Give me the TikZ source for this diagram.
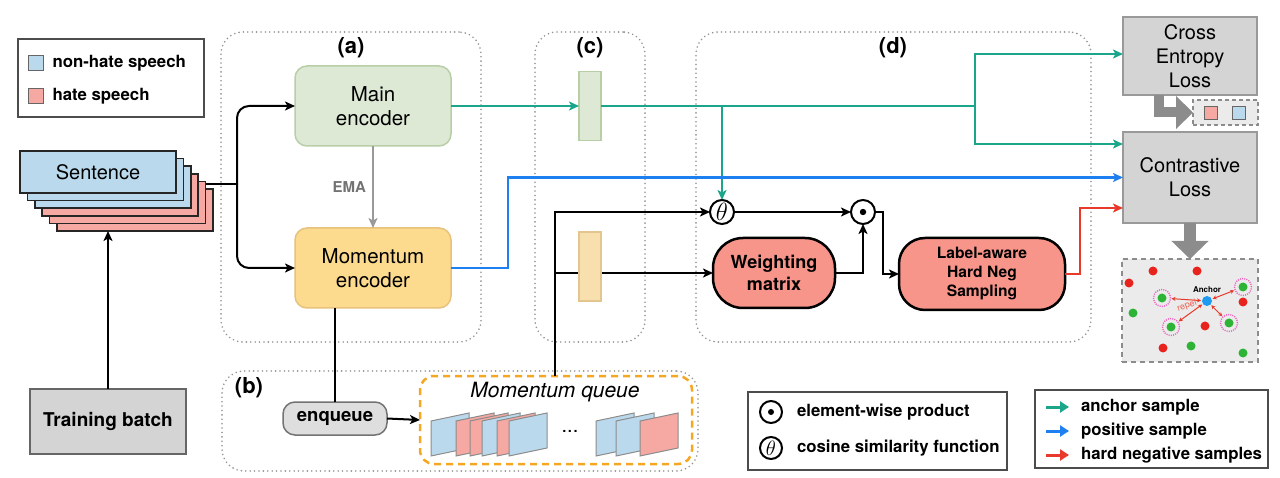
\documentclass[tikz,border=0pt]{standalone}
\usepackage{amsmath,amssymb}
\usepackage{fontspec}
\setmainfont{TeX Gyre Heros}
\usepackage{tikz}
\usetikzlibrary{arrows.meta}
\usetikzlibrary{positioning}

\definecolor{nhblue}{HTML}{BAD9EC}
\definecolor{hred}{HTML}{F6A8A2}
\definecolor{encg}{HTML}{DDE9D5}
\definecolor{encgd}{HTML}{B8CEA7}
\definecolor{enco}{HTML}{FCDB8F}
\definecolor{encod}{HTML}{E6C27C}
\definecolor{feato}{HTML}{F8DFAE}
\definecolor{featod}{HTML}{E3C58E}
\definecolor{salmon}{HTML}{F8958A}
\definecolor{grnline}{HTML}{1BA68C}
\definecolor{bluline}{HTML}{1E7FF0}
\definecolor{redline}{HTML}{E8392B}
\definecolor{qorange}{HTML}{F5A623}
\definecolor{dotred}{HTML}{E8231E}
\definecolor{dotgreen}{HTML}{2DB336}
\definecolor{halopink}{HTML}{EE5FC0}
\definecolor{anchorblue}{HTML}{1E9BF0}

\newcommand{\fsz}[2]{\fontsize{#1}{#2}\selectfont}

\begin{document}
\begin{tikzpicture}[x=1pt, y=-1pt,
  every node/.style={inner sep=0pt, outer sep=0pt},
  region/.style={draw=black!42, line width=1.8pt, line cap=round, dash pattern=on 0pt off 4.4pt, rounded corners=22pt},
  lab/.style={font=\bfseries\fsz{22}{26}},
  legbox/.style={draw=black!70, line width=1.2pt},
  legtxt/.style={anchor=west, font=\bfseries\fsz{16.8}{20}},
  sq/.style={draw=black!60, line width=1.5pt, minimum size=15pt},
  card/.style={draw=black!85, line width=1.5pt, minimum width=156pt, minimum height=42pt, font=\fsz{20}{23}},
  enc/.style={rounded corners=12pt, line width=1.5pt, minimum width=156pt, minimum height=80pt, align=center, font=\fsz{20.5}{24}},
  feat/.style={line width=1.5pt, minimum width=22pt, minimum height=69pt},
  op/.style={circle, draw, fill=white, line width=2pt, minimum size=24pt, font=\fsz{24}{26}},
  hardbox/.style={draw, fill=salmon, line width=2.5pt, rounded corners=30pt, align=center},
  loss/.style={fill=black!17, draw=black!40, line width=2.5pt, minimum width=134pt, align=center, font=\fsz{20}{24}},
  grn/.style={draw=grnline, line width=2.2pt},
  blu/.style={draw=bluline, line width=2.2pt},
  rd/.style={draw=redline, line width=2.2pt},
  fat/.style={draw=black!45, line join=miter},
  halo/.style={circle, draw=halopink, line width=1.4pt, dash pattern=on 1pt off 1.2pt, minimum size=17pt},
  rep/.style={<->, draw=redline, line width=1pt, >={Stealth[length=4pt, width=4pt]}, shorten <=1pt, shorten >=1pt},
]
\tikzset{>={Stealth[length=10pt, width=9pt, inset=2.5pt]}}
\useasboundingbox (0,0) rectangle (1280,478);

%% regions
\node[region, minimum width=260pt, minimum height=310pt] (regA) at (351,187) {};
\node[region, minimum width=110pt, minimum height=310pt] (regC) at (590,187) {};
\node[region, minimum width=395pt, minimum height=310pt] (regD) at (893.5,187) {};
\node[region, minimum width=476pt, minimum height=100pt] (regB) at (460,421) {};
\node[lab] (la) at (351,48) {(a)};
\node[lab] (lc) at (590,48) {(c)};
\node[lab] (ld) at (893,48) {(d)};
\node[lab] (lb) at (249,388) {(b)};

%% legend top left
\node[legbox, minimum width=186pt, minimum height=78pt] (leg1) at (111,78) {};
\node[sq, fill=nhblue] (sqnh) at (36,63) {};
\node[legtxt, right=9pt of sqnh] (tnh) {non-hate speech};
\node[sq, fill=hred] (sqh) at (36,96) {};
\node[legtxt, right=9pt of sqh] (th) {hate speech};

%% sentence stack and training batch
\foreach \i/\c in {5/hred,4/hred,3/hred,2/nhblue,1/nhblue}
  \node[card, fill=\c] (sent\i) at (98+7.4*\i, 172+7.6*\i) {};
\node[card, fill=nhblue] (sent) at (98,172) {Sentence};
\node[fill=black!17, draw=black!60, line width=2pt, minimum width=156pt, minimum height=65pt, font=\bfseries\fsz{19}{23}] (train) at (108,421.5) {Training batch};
\draw[->, line width=2pt] (train) -- (train |- sent5.south);

%% encoders
\node[enc, fill=encg, draw=encgd] (main) at (373,106) {Main\\encoder};
\node[enc, fill=enco, draw=encod, below=82pt of main] (mom) {Momentum\\encoder};
\draw[->, draw=black!40, line width=1.8pt] (main) -- (mom)
  node[midway, left=7pt, text=black!55, font=\bfseries\fsz{15}{18}] {EMA};

\coordinate (split) at (237,184);
\draw[line width=2pt] (sent4.east |- split) -- (split);
\draw[->, line width=2pt, rounded corners=12pt] (split) |- (main.west);
\draw[->, line width=2pt, rounded corners=12pt] (split) |- (mom.west);

%% losses
\node[loss, minimum height=78pt] (cross) at (1190,56) {Cross\\Entropy\\Loss};
\node[loss, minimum height=91pt, below=37pt of cross] (contr) {Contrastive\\Loss};

%% (d) operators
\node[op] (theta) at (722,212) {$\theta$};
\node[op] (prod) at (863,212) {};
\fill (prod) circle (3.2pt);
\node[hardbox, minimum width=122pt, minimum height=70pt, font=\bfseries\fsz{18}{22}] (wm) at (774,273) {Weighting\\matrix};
\node[hardbox, minimum width=166pt, minimum height=72pt, rounded corners=26pt, font=\bfseries\fsz{15.6}{19}] (lahn) at (982,274) {Label-aware\\Hard Neg\\Sampling};

\draw[->, line width=2pt] (theta) -- (prod);
\draw[->, line width=2pt] (wm.east) -| (prod.south);
\draw[->, line width=2pt] (prod.east) -- ++(8,0) |- (lahn.west);

%% momentum queue
\node[draw=black!55, fill=black!13, line width=1.5pt, rounded corners=12pt, minimum width=104pt, minimum height=33pt, font=\bfseries\fsz{18.5}{22}] (enq) at (335,418.5) {enqueue};
\node[draw=qorange, line width=2.5pt, dash pattern=on 7pt off 5pt, rounded corners=14pt, minimum width=272pt, minimum height=88pt] (queue) at (556,420) {};
\node[font=\itshape\fsz{21}{24}] (qtitle) at (555,392) {Momentum queue};
\foreach \x/\c in {431/nhblue,456/hred,470/hred,482/nhblue,497/hred,509/nhblue,596/nhblue,616/nhblue,640/hred}
  \filldraw[fill=\c, draw=black!45, line width=1pt] (\x,421) -- (\x+38,413) -- (\x+38,448) -- (\x,456) -- cycle;
\node[font=\fsz{20}{24}] (qdots) at (570,431) {...};
\draw[line width=2pt] (enq.north) -- (enq.north |- mom.south);
\draw[->, line width=2pt] (enq.east) -- (queue.west);

\coordinate (qsplit) at (555,273);
\draw[->, line width=2pt] (qsplit |- queue.north) |- (theta.west);
\draw[->, line width=2pt] (qsplit) -- (wm.west);
\node[feat, fill=feato, draw=featod] (ofeat) at (590,266.5) {};

%% anchor / positive / negative paths
\node[feat, fill=encg, draw=encgd] (gfeat) at (590,106) {};
\coordinate (gsplit) at (975,106);
\draw[grn, ->] (main.east) -- (gfeat.west);
\draw[grn] (gfeat.east) -- (gsplit);
\draw[grn, ->] (gsplit) |- ([yshift=2pt]cross.west);
\draw[grn, ->] (gsplit) |- ([yshift=33.5pt]contr.west);
\draw[grn, ->] (theta |- gsplit) -- (theta.north);
\draw[blu, ->] (mom.east) -- ++(57,0) |- (contr.west);
\draw[rd, ->] (lahn.east) -- ++(15,0) |- ([yshift=-30.5pt]contr.west);

%% label box under cross entropy
\node[fill=black!8, draw=black!45, line width=1.5pt, dash pattern=on 4pt off 3pt, minimum width=65pt, minimum height=25pt] (lbox) at (1225.5,112.5) {};
\node[sq, fill=hred, minimum size=13pt] (lred) at (1211,113) {};
\node[sq, fill=nhblue, minimum size=13pt] (lblue) at (1239,113) {};
\draw[fat, line width=10pt, -{Triangle[length=17pt, width=32pt]}] ([xshift=-31pt]cross.south) |- (lbox.west);

%% contrastive space
\node[fill=black!8, draw=black!45, line width=2pt, dash pattern=on 5pt off 4pt, minimum width=136pt, minimum height=103pt] (scat) at (1190,310.5) {};
\draw[fat, line width=12pt, -{Triangle[length=18pt, width=36pt]}] (contr.south) -- (scat.north);
\foreach \x/\y in {1153/271,1197/271,1129/283,1243/302,1205/326,1163/348}
  \fill[dotred] (\x,\y) circle (4.5pt);
\foreach \x/\y in {1133/313,1191/346,1243/353}
  \fill[dotgreen] (\x,\y) circle (4.5pt);
\node[halo] (h1) at (1162,298) {};
\node[halo] (h2) at (1243,287) {};
\node[halo] (h3) at (1171,327) {};
\node[halo] (h4) at (1229,323) {};
\foreach \h in {h1,h2,h3,h4}
  \fill[dotgreen] (\h) circle (4.5pt);
\node[circle, fill=anchorblue, minimum size=10pt] (anc) at (1207,301) {};
\node[font=\bfseries\fsz{8}{9}, above=3pt of anc] (anctxt) {Anchor};
\foreach \h in {h1,h2,h3,h4}
  \draw[rep] (anc) -- (\h);
\node[text=redline!80, rotate=20, font=\fsz{9}{10}] (repel) at (1187,306) {repel};

%% legend bottom
\node[legbox, minimum width=259pt, minimum height=78pt] (leg2) at (877.5,431) {};
\node[op, minimum size=22pt] (iprod) at (771,412) {};
\fill (iprod) circle (3pt);
\node[legtxt, right=15pt of iprod] (tprod) {element-wise product};
\node[op, minimum size=22pt, font=\fsz{22}{24}] (itheta) at (771,448) {$\theta$};
\node[legtxt, right=15pt of itheta] (ttheta) {cosine similarity function};

\node[legbox, minimum width=233pt, minimum height=78pt] (leg3) at (1151.5,429) {};
\node[legtxt] (tanc) at (1081,407) {anchor sample};
\node[legtxt] (tpos) at (1081,431) {positive sample};
\node[legtxt] (tneg) at (1081,455) {hard negative samples};
\draw[grn, line width=3pt, -{Triangle[length=9pt, width=11pt]}] ([xshift=-35pt]tanc.west) -- ([xshift=-12pt]tanc.west);
\draw[blu, line width=3pt, -{Triangle[length=9pt, width=11pt]}] ([xshift=-35pt]tpos.west) -- ([xshift=-12pt]tpos.west);
\draw[rd, line width=3pt, -{Triangle[length=9pt, width=11pt]}] ([xshift=-35pt]tneg.west) -- ([xshift=-12pt]tneg.west);

\end{tikzpicture}
\end{document}
